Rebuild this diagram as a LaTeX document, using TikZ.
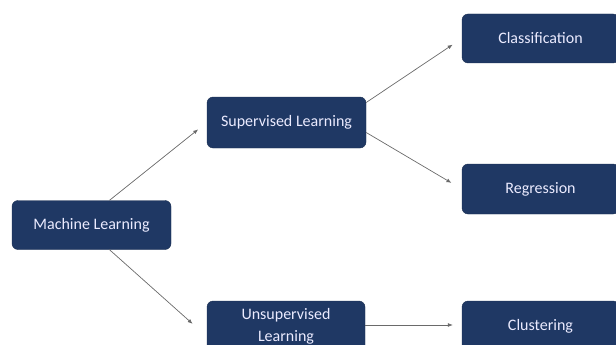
\documentclass[tikz,border=0pt]{standalone}
\usepackage{fontspec}
\setmainfont{Carlito}
\usetikzlibrary{arrows.meta}
\definecolor{navy}{HTML}{1F3864}
\definecolor{linegray}{HTML}{6A6A6A}

\begin{document}
\begin{tikzpicture}[x=1pt,y=-1pt]

                \tikzset{box/.style = {shape=rectangle,rounded corners=6pt,fill=navy,draw=navy!80!black,
                        text=white!92!blue,minimum height=49pt,inner sep=2pt,align=center,
                        font=\fontsize{16}{22}\selectfont}}
                \tikzset{edge/.style = {-{Latex[length=5pt,width=4pt]},draw=linegray,line width=0.7pt}}

                \clip (0,0) rectangle (616,345);

                \node[box,minimum width=159pt] (ml) at (91.5, 225) {Machine Learning};
                \node[box,minimum width=159pt,minimum height=51pt] (sup) at (286.5, 122.5) {Supervised Learning};
                \node[box,minimum width=158pt,minimum height=51pt] (unsup) at (286, 326.5) {Unsupervised\\Learning};
                \node[box,minimum width=157pt] (class) at (540.5, 38.5) {Classification};
                \node[box,minimum width=157pt,minimum height=50pt] (reg) at (540.5, 189) {Regression};
                \node[box,minimum width=157pt,minimum height=51pt] (clust) at (540.5, 326.5) {Clustering};

                \draw[edge,shorten >=11pt] ([xshift=18pt]ml.north) to (sup.west);
                \draw[edge,shorten >=19pt] ([xshift=18pt]ml.south) to ([yshift=-10pt]unsup.west);

                \draw[edge,shorten >=11pt] ([yshift=20pt]sup.east) to (class.west);
                \draw[edge,shorten >=12pt] ([yshift=-10pt]sup.east) to (reg.west);

                \draw[edge,shorten >=9pt] ([yshift=1.5pt]unsup.east) to ([yshift=1.5pt]clust.west);
            \end{tikzpicture}
\end{document}
